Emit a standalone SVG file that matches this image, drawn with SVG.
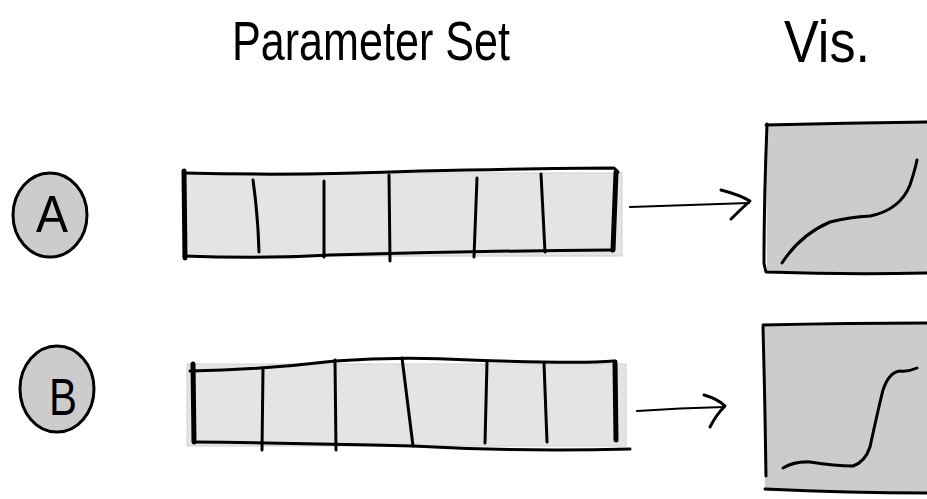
<svg xmlns="http://www.w3.org/2000/svg" width="927" height="499" viewBox="0 0 927 499">
<style>
.ink{fill:none;stroke:#000;stroke-linecap:round;stroke-linejoin:round}
.thin{stroke-width:2.2}
.mid{stroke-width:3}
.thick{stroke-width:5}
.title{font-family:"Liberation Sans",sans-serif;fill:#000}
.bar{fill:#e4e4e4;stroke:#d0d0d0;stroke-width:1}
.vis{fill:#cccccc}
.badge{fill:#cccccc;stroke:#000;stroke-width:3}
</style>
<rect width="927" height="499" fill="#fff"/>
<text class="title" x="232" y="60" font-size="56" textLength="278" lengthAdjust="spacingAndGlyphs">Parameter Set</text>
<text class="title" x="784" y="62" font-size="60" textLength="86" lengthAdjust="spacingAndGlyphs">Vis.</text>

<g id="badgeA">
<ellipse class="badge" cx="50" cy="215" rx="37" ry="42"/>
<text class="title" x="52" y="232" font-size="52" text-anchor="middle" textLength="32" lengthAdjust="spacingAndGlyphs">A</text>
</g>
<g id="badgeB">
<ellipse class="badge" cx="57" cy="389" rx="37" ry="43"/>
<text class="title" x="63" y="415" font-size="52" text-anchor="middle" textLength="28" lengthAdjust="spacingAndGlyphs">B</text>
</g>

<g id="paramA">
<rect class="bar" x="183" y="173" width="439" height="83"/>
<path class="ink mid" d="M184,173 Q300,176 420,171 Q550,168 614,168 L618,172"/>
<path class="ink mid" d="M184,256 Q260,259 330,255 Q470,251 612,250"/>
<path class="ink thick" d="M184,171 L185,258"/>
<path class="ink thick" d="M616,172 L613,250"/>
<path class="ink mid" d="M253,180 Q258,215 259,252"/>
<path class="ink mid" d="M324,181 L324,257"/>
<path class="ink mid" d="M389,175 L390,261"/>
<path class="ink mid" d="M477,178 L474,257"/>
<path class="ink mid" d="M541,174 L545,252"/>
</g>

<g id="paramB">
<rect class="bar" x="187" y="364" width="439" height="82"/>
<path class="ink mid" d="M190,371 Q260,370 335,361 Q400,356 470,360 Q580,364 614,361"/>
<path class="ink mid" d="M194,442 Q300,443 413,446 Q520,452 630,449"/>
<path class="ink thick" d="M193,364 L194,442"/>
<path class="ink thick" d="M615,362 L616,440"/>
<path class="ink mid" d="M263,368 L262,450"/>
<path class="ink mid" d="M335,360 L336,450"/>
<path class="ink mid" d="M402,358 L413,446"/>
<path class="ink mid" d="M487,362 L485,443"/>
<path class="ink mid" d="M544,363 L547,442"/>
</g>

<g id="visA">
<path class="vis" d="M766,126 Q850,122 927,122 L927,273 Q850,275 767,272 Z"/>
<path class="ink mid" d="M766,125 Q845,123 927,122"/>
<path class="ink mid" d="M767,124 Q764,200 764,263 L765,268 L766,272 Q850,275 927,273"/>
<path class="ink mid" d="M782,263 Q800,235 830,222 Q850,217 870,216 Q900,210 910,185 Q915,170 917,160"/>
</g>

<g id="visB">
<path class="vis" d="M763,325 Q850,323 927,323 L927,493 Q850,491 765,491 Z"/>
<path class="ink mid" d="M763,325 Q850,323 927,323"/>
<path class="ink mid" d="M763,327 Q765,400 766,476"/>
<path class="ink mid" d="M765,489 Q850,493 927,493"/>
<path class="ink mid" d="M783,468 Q795,461 810,462 Q835,466 853,466 Q865,462 870,447 Q878,410 883,390 Q889,372 900,371 Q908,372 917,368"/>
</g>

<g id="connectors">
<path class="ink thin" d="M630,207 Q690,205 749,203"/>
<path class="ink mid" d="M721,190 Q740,195 750,201 Q740,210 731,219"/>
<path class="ink thin" d="M637,411 Q680,408 724,407"/>
<path class="ink mid" d="M704,395 Q718,399 725,406 Q716,415 710,427"/>
</g>
</svg>
